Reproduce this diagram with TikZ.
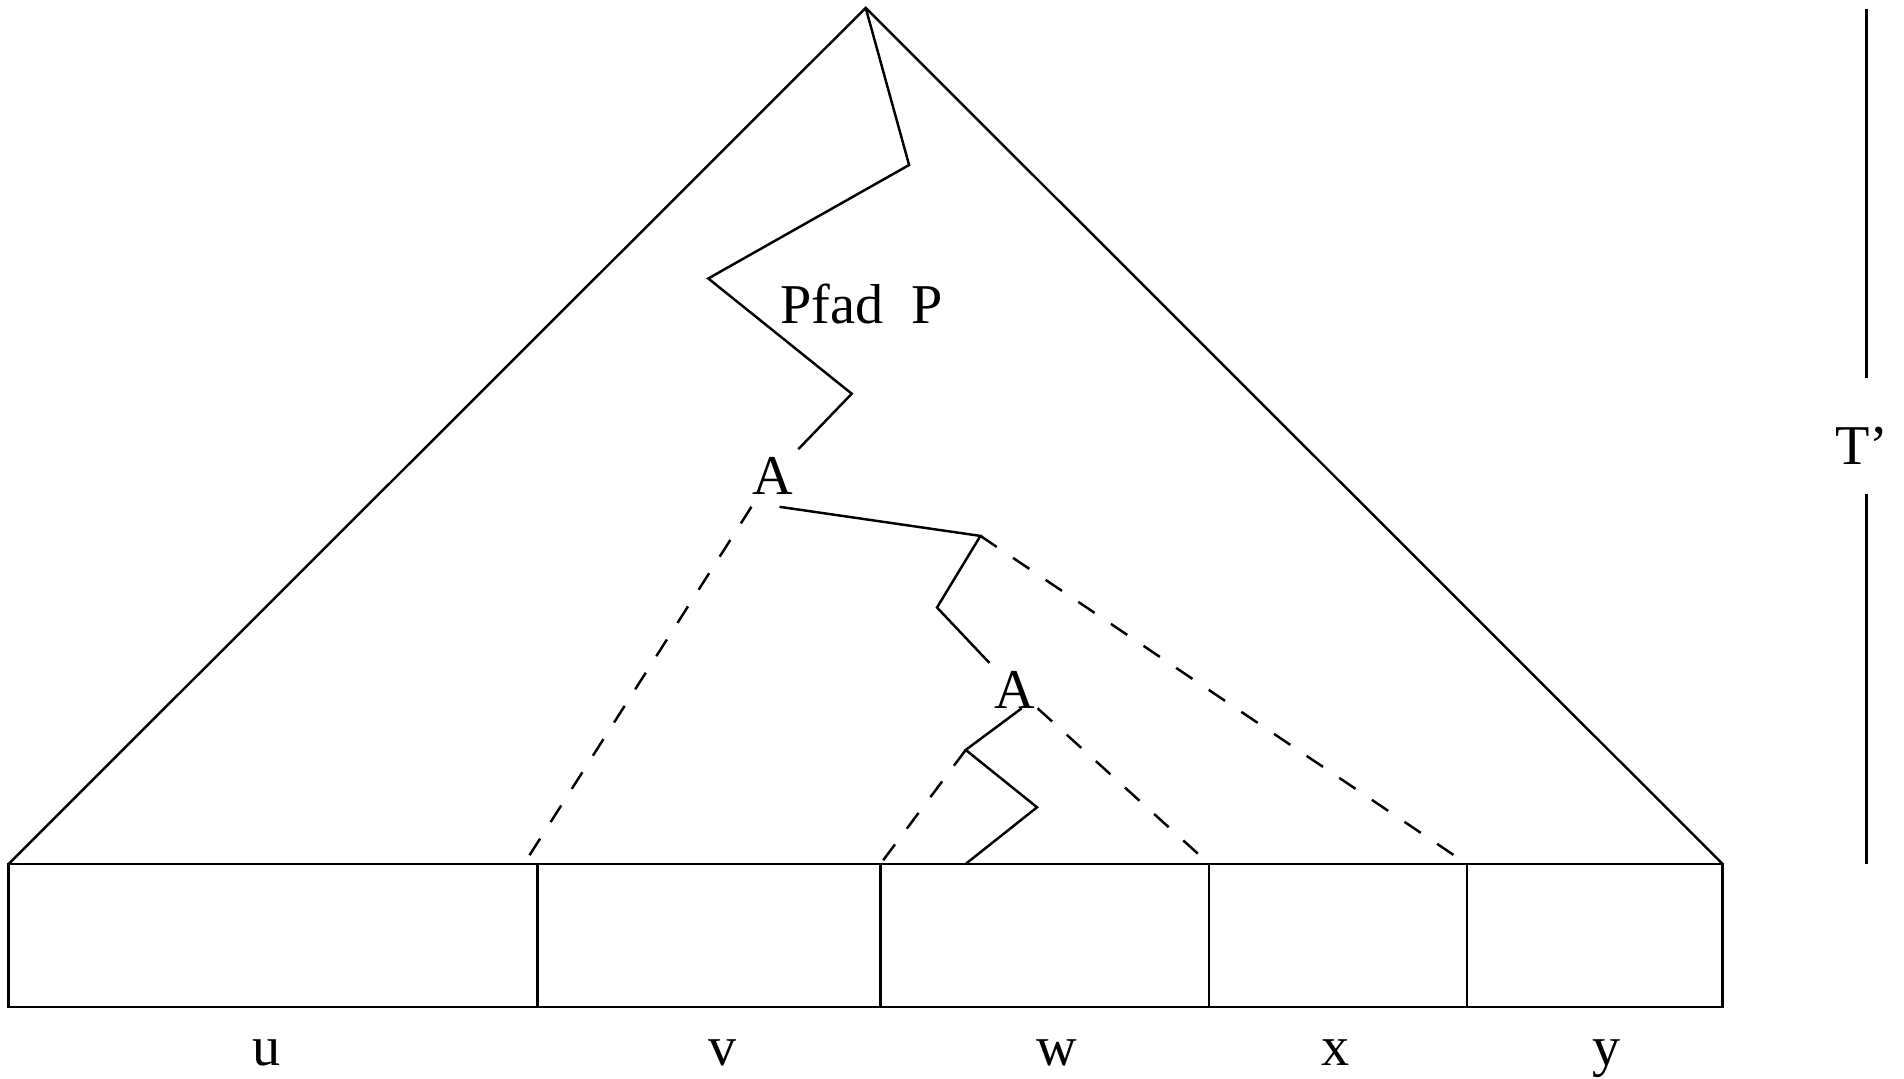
\documentclass[tikz,border=0pt]{standalone}
\usepackage{fontspec}
\setmainfont{Liberation Serif}

\begin{document}
\begin{tikzpicture}[x=1in,y=1in, line width=0.7pt,
  sym/.style={font=\fontsize{16}{19}\selectfont, inner sep=2pt, anchor=base},
  hidden/.style={dash pattern=on 5.6pt off 5.6pt}]
\useasboundingbox (0,0) rectangle (7.5,4.25);
\coordinate (top) at (3.41,4.219);
\coordinate (bl) at (0.034,0.847);
\coordinate (br) at (6.785,0.847);
\draw (bl) -- (top) -- (br);
\draw (0.034,0.283) rectangle (br);
\foreach \x/\n in {2.117/uv, 3.468/vw, 4.763/wx, 5.778/xy} {
  \coordinate (\n) at (\x,0.847);
  \draw (\n) -- (\x,0.283);
}
\foreach \t/\x in {u/1.048, v/2.846, w/4.161, x/5.262, y/6.328}
  \node[sym] (l\t) at (\x,0.052) {\t};
\node[sym] (pfad) at (3.394,2.977) {Pfad\ \ P};
\node[sym] (A1) at (3.043,2.302) {A};
\node[sym] (A2) at (3.997,1.460) {A};
\coordinate (p1) at (3.581,3.600);
\coordinate (p2) at (2.790,3.153);
\coordinate (p3) at (3.355,2.699);
\coordinate (c1) at (3.862,2.139);
\coordinate (c2) at (3.691,1.857);
\coordinate (d1) at (3.804,1.296);
\coordinate (d2) at (4.085,1.070);
\coordinate (d3) at (3.804,0.847);
\coordinate (e1) at (2.064,0.847);
\draw (top) -- (p1) -- (p2) -- (p3) -- (A1);
\draw ([shift={(2pt,-3.5pt)}]A1.base) -- (c1) -- (c2) -- (A2);
\draw[hidden] ([shift={(-6pt,-3.5pt)}]A1.base) -- (e1);
\draw[hidden] (c1) -- (xy);
\draw ([xshift=2pt]A2.base) -- (d1) -- (d2) -- (d3);
\draw[hidden] (d1) -- (vw);
\draw[hidden] ([xshift=6.5pt]A2.base) -- (wx);
% height of T'
\node[sym] (tp) at (7.334,2.419) {T'};
\coordinate (ttop) at (7.352,4.216);
\coordinate (tbot) at (7.352,0.847);
\draw[shorten >=11.8pt] (ttop) -- (ttop |- tp.north);
\draw[shorten <=6pt] (ttop |- tp.south) -- (tbot);
\end{tikzpicture}
\end{document}
